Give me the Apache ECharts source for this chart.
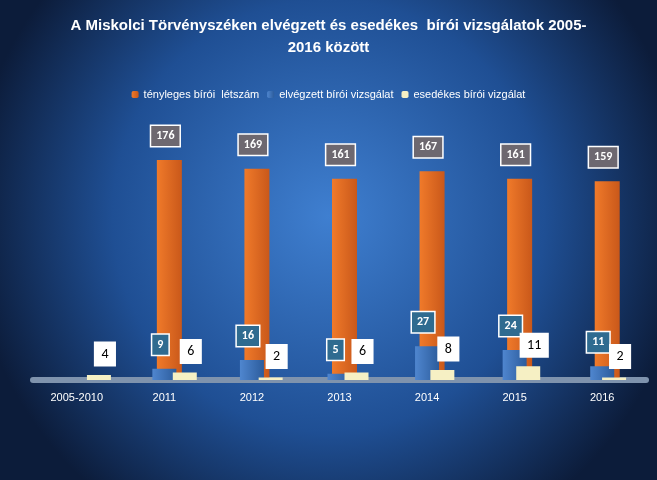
<!DOCTYPE html>
<html><head><meta charset="utf-8">
<script src="https://cdn.jsdelivr.net/npm/echarts@6/dist/echarts.min.js"></script>
<style>html,body{margin:0;padding:0;}#c{width:657px;height:480px;}</style>
</head><body><div id="c"></div>
<script>
const categories = ['2005-2010','2011','2012','2013','2014','2015','2016'];
const letszam = [null,176,169,161,167,161,159];
const elvegzett = [null,9,16,5,27,24,11];
const esedekes = [4,6,2,6,8,11,2];

const chart = echarts.init(document.getElementById('c'));
function lbl(bg, color, dx){
  return {show:true, position:'top', distance:14, offset:[dx,0], backgroundColor:bg, color:color,
    borderColor:'#fff', borderWidth:1.5, padding:[4,5], fontSize:12, fontWeight:'bold', fontFamily:'Calibri, Liberation Sans, sans-serif'};
}
const shifts = [7, 2, 25];
const grids = shifts.map(s => ({left:31+s, right:13-s, top:100, bottom:100}));
const xAxes = shifts.map((s,i) => ({type:'category',data:categories,gridIndex:i,axisTick:{show:false},
    axisLine:{show:i===1,lineStyle:{color:'#7f93ad',width:6}},
    axisLabel:{show:i===1,color:'#fff',fontSize:11,margin:12}}));
const yAxes = shifts.map((s,i) => ({type:'value',min:0,max:224,show:false,gridIndex:i}));
chart.setOption({
  backgroundColor:{type:'radial',x:0.5,y:0.45,r:0.75,colorStops:[{offset:0,color:'#3f7fd0'},{offset:0.6,color:'#1f4f94'},{offset:1,color:'#0c1c3a'}]},
  title:{text:'A Miskolci Törvényszéken elvégzett és esedékes  bírói vizsgálatok 2005-\n2016 között',left:'center',top:10,
    textStyle:{color:'#fff',fontSize:15,fontWeight:'bold',lineHeight:22,fontFamily:'Liberation Sans, sans-serif'}},
  legend:{top:84,left:'center',itemWidth:7,itemHeight:7,itemGap:8,textStyle:{color:'#fff',fontSize:11,fontFamily:'Liberation Sans, sans-serif'},
    data:['tényleges bírói  létszám','elvégzett bírói vizsgálat','esedékes bírói vizgálat']},
  grid:grids, xAxis:xAxes, yAxis:yAxes,
  series:[
    {name:'tényleges bírói  létszám',type:'bar',data:letszam,barWidth:25,xAxisIndex:0,yAxisIndex:0,z:1,
      itemStyle:{color:{type:'linear',x:0,y:0,x2:1,y2:0,colorStops:[{offset:0,color:'#f07a2a'},{offset:1,color:'#c9581a'}]}},
      label:lbl('#6d6870','#fff',-4)},
    {name:'elvégzett bírói vizsgálat',type:'bar',data:elvegzett,barWidth:24,xAxisIndex:1,yAxisIndex:1,z:3,
      itemStyle:{color:{type:'linear',x:0,y:0,x2:1,y2:0,colorStops:[{offset:0,color:'#4f86cf'},{offset:1,color:'#2c5c9c'}]}},
      label:lbl('#2f6b90','#fff',-4)},
    {name:'esedékes bírói vizgálat',type:'bar',data:esedekes,barWidth:24,xAxisIndex:2,yAxisIndex:2,z:4,
      itemStyle:{color:'#f6f0c4'},
      label:Object.assign(lbl('#fff','#000',6),{fontWeight:'normal',fontSize:14,padding:[4,6],distance:10})}
  ]
});
</script></body></html>
